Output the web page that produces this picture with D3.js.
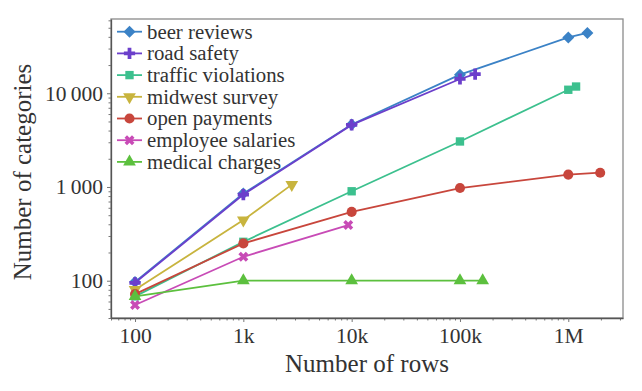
<!DOCTYPE html>
<html>
<head>
<meta charset="UTF-8">
<style>
  body { margin: 0; background: #fff; }
  svg text { font-family: "Liberation Serif", serif; fill: #333; }
  .axis path { stroke: #555; }
  .axis line { stroke: #777; }
</style>
<script src="https://d3js.org/d3.v7.min.js"></script>
</head>
<body>
<svg width="642" height="391"></svg>
<script>
// data
var seriesNames = ["beer reviews", "road safety", "traffic violations", "midwest survey",
                   "open payments", "employee salaries", "medical charges"];
var seriesColors = ["#3b82c6", "#6b3fcb", "#3cc08e", "#c8b43e", "#c8463c", "#c84bb6", "#5cc03e"];
var seriesSymbols = ["diamond", "plus", "square", "tridown", "circle", "x", "triangle"];

var beerRows = [100, 1000, 10000, 100000, 1000000, 1500000];
var beerCats = [97, 850, 4650, 15800, 39400, 44000];
var roadRows = [100, 1000, 10000, 100000, 138000];
var roadCats = [95, 830, 4600, 14200, 16000];
var trafficRows = [100, 1000, 10000, 100000, 1000000, 1180000];
var trafficCats = [68, 260, 900, 3060, 10900, 11800];
var midwestRows = [100, 1000, 2800];
var midwestCats = [80, 443, 1060];
var paymentsRows = [100, 1000, 10000, 100000, 1000000, 1970000];
var paymentsCats = [72, 250, 542, 975, 1355, 1420];
var salariesRows = [100, 1000, 9300];
var salariesCats = [55, 180, 392];
var medicalRows = [100, 1000, 10000, 100000, 162000];
var medicalCats = [68, 100, 100, 100, 100];

var xTicks = [100, 1000, 10000, 100000, 1000000];
var xTickLabels = ["100", "1k", "10k", "100k", "1M"];
var yTicks = [100, 1000, 10000];
var yTickLabels = ["100", "1\u2009000", "10\u2009000"];

var allRows = [beerRows, roadRows, trafficRows, midwestRows, paymentsRows, salariesRows, medicalRows];
var allCats = [beerCats, roadCats, trafficCats, midwestCats, paymentsCats, salariesCats, medicalCats];

var series = seriesNames.map(function(name, i) {
    return {
        name: name, color: seriesColors[i], symbol: seriesSymbols[i],
        values: allRows[i].map(function(r, j) { return {rows: r, cats: allCats[i][j]}; })
    };
});

var svg = d3.select("svg"),
    plotL = 111, plotR = 623, plotT = 19, plotB = 318;

var x = d3.scaleLog().domain([60, 3.2e6]).range([plotL, plotR]),
    y = d3.scaleLog().domain([40, 62000]).range([plotB, plotT]);

function minors(lo, hi) {
    var out = [];
    for (var d = 1; d <= 1e7; d *= 10)
        for (var k = 2; k <= 9; k++)
            if (k * d >= lo && k * d <= hi) out.push(k * d);
    return out;
}

// frame (top/right lighter)
svg.append("rect")
    .attr("x", plotL).attr("y", plotT)
    .attr("width", plotR - plotL).attr("height", plotB - plotT)
    .attr("fill", "none").attr("stroke", "#8a8a8a").attr("stroke-width", 1.3);

// minor ticks
svg.append("g").attr("class", "axis")
    .attr("transform", "translate(0," + plotB + ")")
    .call(d3.axisBottom(x).tickValues(minors(60, 3.2e6)).tickSize(2.5).tickFormat(""))
    .call(function(g) { g.select(".domain").remove(); });
svg.append("g").attr("class", "axis")
    .attr("transform", "translate(" + plotL + ",0)")
    .call(d3.axisLeft(y).tickValues(minors(40, 62000)).tickSize(2.5).tickFormat(""))
    .call(function(g) { g.select(".domain").remove(); });

// major ticks
var xAxis = d3.axisBottom(x).tickValues(xTicks).tickSize(4).tickSizeOuter(0).tickPadding(6)
    .tickFormat(function(d, i) { return xTickLabels[i]; });
var yAxis = d3.axisLeft(y).tickValues(yTicks).tickSize(4).tickSizeOuter(0).tickPadding(4)
    .tickFormat(function(d, i) { return yTickLabels[i]; });

svg.append("g").attr("class", "axis")
    .attr("transform", "translate(0," + plotB + ")")
    .call(xAxis)
    .call(function(g) { g.selectAll("text").attr("font-size", 21.5).attr("fill", "#333"); });
svg.append("g").attr("class", "axis")
    .attr("transform", "translate(" + plotL + ",0)")
    .call(yAxis)
    .call(function(g) { g.selectAll("text").attr("font-size", 21.5).attr("fill", "#333"); });

svg.selectAll(".axis .domain").attr("stroke-width", 1.3);

// axis titles
svg.append("text")
    .attr("x", 367).attr("y", 372)
    .attr("text-anchor", "middle")
    .attr("font-size", 25)
    .text("Number of rows");
svg.append("text")
    .attr("transform", "translate(31,172) rotate(-90)")
    .attr("text-anchor", "middle")
    .attr("font-size", 25)
    .text("Number of categories");

// marker shapes: [d3 symbol, area, extra rotation]
var symbolDefs = {
    diamond: [d3.symbolSquare, 72, 45],
    plus: [d3.symbolCross, 70, 0],
    square: [d3.symbolSquare, 70, 0],
    circle: [d3.symbolCircle, 80, 0],
    x: [d3.symbolCross, 62, 45],
    triangle: [d3.symbolTriangle, 70, 0],
    tridown: [d3.symbolTriangle, 70, 180]
};

function marker(sel, s) {
    var def = symbolDefs[s.symbol];
    return sel.append("path")
        .attr("transform", def[2] ? "rotate(" + def[2] + ")" : null)
        .attr("d", d3.symbol().type(def[0]).size(def[1]))
        .attr("fill", s.color);
}

var line = d3.line()
    .x(function(d) { return x(d.rows); })
    .y(function(d) { return y(d.cats); });

series.forEach(function(s) {
    var g = svg.append("g");
    g.append("path")
        .datum(s.values)
        .attr("d", line)
        .attr("fill", "none")
        .attr("stroke", s.color)
        .attr("stroke-width", 1.8);
    g.selectAll("g.pt")
        .data(s.values)
        .join("g")
        .attr("class", "pt")
        .attr("transform", function(d) {
            return "translate(" + x(d.rows) + "," + y(d.cats) + ")";
        })
        .each(function() { marker(d3.select(this), s); });
});

// legend
var legend = svg.append("g").attr("transform", "translate(117,31.7)");
series.forEach(function(s, i) {
    var row = legend.append("g").attr("transform", "translate(0," + (i * 21.7) + ")");
    row.append("line")
        .attr("x1", 0).attr("x2", 25)
        .attr("stroke", s.color).attr("stroke-width", 1.8);
    marker(row.append("g").attr("transform", "translate(12.5,0)"), s);
    row.append("text")
        .attr("x", 30).attr("y", 0).attr("dy", "0.33em")
        .attr("font-size", 20.8)
        .text(s.name);
});
</script>
</body>
</html>
